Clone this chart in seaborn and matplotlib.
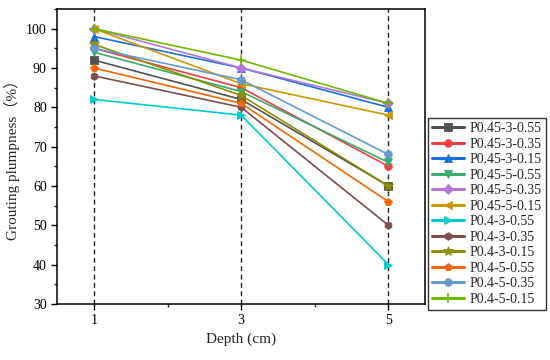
import matplotlib
matplotlib.use("Agg")
import matplotlib.pyplot as plt
import seaborn as sns
import pandas as pd
from matplotlib.ticker import MultipleLocator

depths = [1, 3, 5]
series_names = ["P0.45-3-0.55", "P0.45-3-0.35", "P0.45-3-0.15", "P0.45-5-0.55",
                "P0.45-5-0.35", "P0.45-5-0.15", "P0.4-3-0.55", "P0.4-3-0.35",
                "P0.4-3-0.15", "P0.4-5-0.55", "P0.4-5-0.35", "P0.4-5-0.15"]
p045_3_055 = [92, 82, 60]
p045_3_035 = [95, 85, 65]
p045_3_015 = [98, 90, 80]
p045_5_055 = [94, 84, 66]
p045_5_035 = [100, 90, 81]
p045_5_015 = [100, 86, 78]
p04_3_055 = [82, 78, 40]
p04_3_035 = [88, 80, 50]
p04_3_015 = [96, 83, 60]
p04_5_055 = [90, 81, 56]
p04_5_035 = [95, 87, 68]
p04_5_015 = [100, 92, 81]
all_values = [p045_3_055, p045_3_035, p045_3_015, p045_5_055, p045_5_035, p045_5_015,
              p04_3_055, p04_3_035, p04_3_015, p04_5_055, p04_5_035, p04_5_015]

colors = ["#515151", "#F14040", "#1A6FDF", "#37AD6B", "#B177DE", "#CC9900",
          "#00CBCC", "#7D4E4E", "#8E8E00", "#FB6501", "#6699CC", "#6FB802"]
markers = ["s", "o", "^", "v", "D", "<", ">", "h", "*", "p", "o", "+"]

sns.set_style("ticks")
plt.rcParams["font.family"] = ["Liberation Serif", "Noto Sans CJK SC"]

fig = plt.figure(figsize=(5.5, 3.6), dpi=100)
ax = fig.add_axes([0.104, 0.156, 0.669, 0.819])

for d in depths:
    ax.axvline(d, color="#222222", linestyle=(0, (3.5, 2.5)), linewidth=1.0, zorder=0)

for name, vals, c, m in zip(series_names, all_values, colors, markers):
    sub = pd.DataFrame({"Depth": depths, "Value": vals})
    sns.lineplot(data=sub, x="Depth", y="Value", color=c, marker=m,
                 markersize=7 if m in ("*", "+") else 5.5, markeredgecolor=c,
                 markeredgewidth=1.1 if m == "+" else 0.6,
                 linewidth=1.2, label=name, ax=ax)

ax.set_xlim(0.5, 5.5)
ax.set_ylim(30, 105)
ax.set_xticks(depths)
ax.xaxis.set_minor_locator(MultipleLocator(1))
ax.yaxis.set_major_locator(MultipleLocator(10))
ax.yaxis.set_minor_locator(MultipleLocator(5))
ax.tick_params(axis="both", which="major", direction="out", length=4, width=1,
               labelsize=10, colors="black")
ax.tick_params(axis="both", which="minor", direction="out", length=2.5, width=1)
for s in ax.spines.values():
    s.set_linewidth(1.1)
    s.set_color("black")
    s.set_visible(True)

ax.set_xlabel("Depth (cm)", fontsize=11)
ax.set_ylabel("Grouting plumpness（%）", fontsize=11)

handles, labels = ax.get_legend_handles_labels()
leg = ax.legend(handles, labels, loc="upper left", bbox_to_anchor=(1.008, 0.63),
                fontsize=10, frameon=True, fancybox=False, edgecolor="black",
                handlelength=2.3, handletextpad=0.4, labelspacing=0.18,
                borderpad=0.3, borderaxespad=0)
for ln in leg.get_lines():
    ln.set_linewidth(2.2)
leg.get_frame().set_linewidth(1.0)

fig.savefig("out.png", dpi=100)
